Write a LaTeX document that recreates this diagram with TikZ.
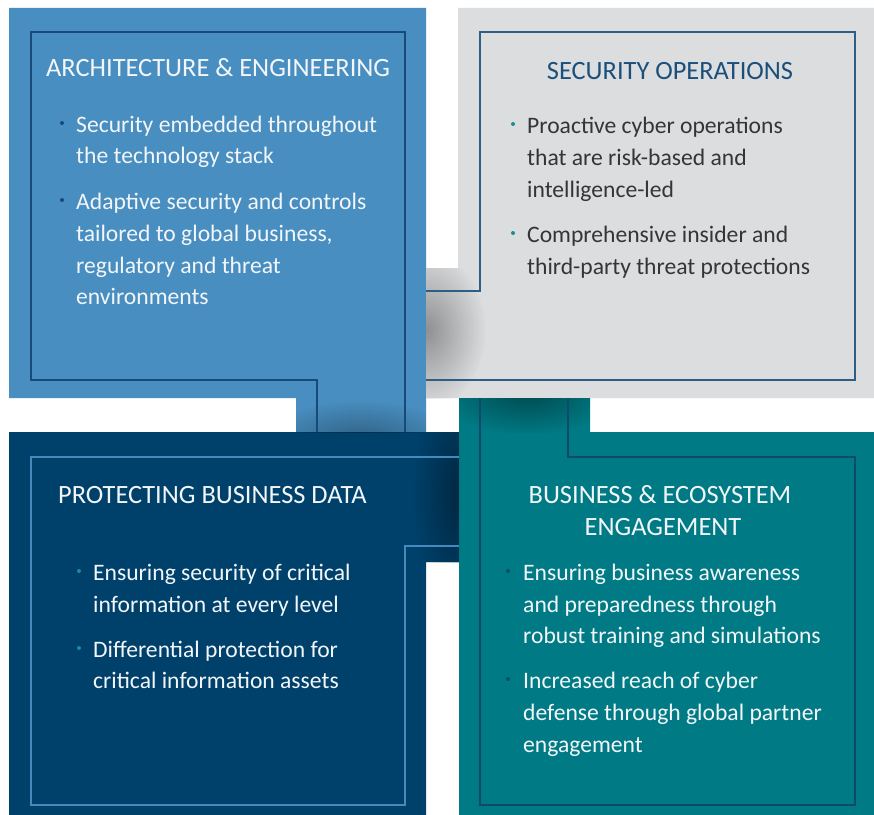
\documentclass[tikz,border=0pt]{standalone}
\usepackage{fontspec}
\setmainfont{Carlito}
\usetikzlibrary{fadings}
\definecolor{cblue}{HTML}{488EC0}
\definecolor{cbluel}{HTML}{174A78}
\definecolor{cgray}{HTML}{DCDDDF}
\definecolor{cgrayl}{HTML}{2C5E88}
\definecolor{cnavy}{HTML}{00416B}
\definecolor{cnavyl}{HTML}{4689BE}
\definecolor{cteal}{HTML}{007B85}
\definecolor{ctealt}{HTML}{0F4A6E}
\definecolor{ctitle}{HTML}{1B4F7B}
\definecolor{cbody}{HTML}{333538}
\definecolor{cdot}{HTML}{1E8C95}
\definecolor{cwhite}{HTML}{F2F6F9}
\tikzfading[name=shfade, inner color=transparent!0, outer color=transparent!100]
\tikzset{
  inline/.style={line width=1.2bp},
  ttl/.style={inner sep=0, font=\fontsize{26.5}{32}\selectfont},
  txt/.style={anchor=base west, inner sep=0, font=\fontsize{23.7}{32}\selectfont},
  shadowfill/.style={fill=black, path fading=shfade},
}
\begin{document}
\begin{tikzpicture}[x=1bp,y=-1bp]
\useasboundingbox (0,0) rectangle (874,815);
\fill[white] (0,0) rectangle (874,815);
% shapes
\path[fill=cblue] (9,8) -- (426,8) -- (426,432) -- (296,432) -- (296,398) -- (9,398) -- cycle;
\path[fill=cgray] (458,8) -- (874,8) -- (874,398) -- (426,398) -- (426,268) -- (458,268) -- cycle;
\path[fill=cnavy] (9,432) -- (459,432) -- (459,562) -- (426,562) -- (426,815) -- (9,815) -- cycle;
\path[fill=cteal] (459,398) -- (590,398) -- (590,432) -- (874,432) -- (874,815) -- (459,815) -- cycle;
% shadows
\begin{scope}
  \clip (426,268) rectangle (874,398);
  \fill[shadowfill, opacity=0.35] (426,330) ellipse [x radius=60, y radius=80];
\end{scope}
\begin{scope}
  \clip (296,398) rectangle (426,432);
  \fill[shadowfill, opacity=0.35] (360,444) ellipse [x radius=100, y radius=44];
\end{scope}
\begin{scope}
  \clip (459,398) rectangle (590,432);
  \fill[shadowfill, opacity=0.4] (527,392) ellipse [x radius=90, y radius=44];
\end{scope}
\begin{scope}
  \clip (9,432) rectangle (459,562);
  \fill[shadowfill, opacity=0.4] (462,495) ellipse [x radius=50, y radius=120];
\end{scope}
% inner lines
\draw[inline, cbluel] (317,432) -- (317,380) -- (31,380) -- (31,32) -- (405,32) -- (405,432);
\draw[inline, cgrayl] (426,291) -- (480,291) -- (480,32) -- (855,32) -- (855,380) -- (426,380);
\draw[inline, cnavyl] (459,457) -- (31,457) -- (31,805) -- (405,805) -- (405,546) -- (459,546);
\draw[inline, ctealt] (480,398) -- (480,805) -- (855,805) -- (855,457) -- (568,457) -- (568,398);
% A text
\node[ttl, anchor=base west, text=cwhite] (atitle) at (46,77) {ARCHITECTURE \& ENGINEERING};
\fill[cbluel] (62,123) circle (2);
\node[txt, text=cwhite] (a1) at (76,132) {Security embedded throughout};
\node[txt, text=cwhite] (a2) at (76,163) {the technology stack};
\fill[cbluel] (62,200) circle (2);
\node[txt, text=cwhite] (a3) at (76,209) {Adaptive security and controls};
\node[txt, text=cwhite] (a4) at (76,241) {tailored to global business,};
\node[txt, text=cwhite] (a5) at (76,273) {regulatory and threat};
\node[txt, text=cwhite] (a6) at (76,304) {environments};
% B text
\node[ttl, anchor=base, text=ctitle] (btitle) at (670,80) {SECURITY OPERATIONS};
\fill[cdot] (513,124) circle (2);
\node[txt, text=cbody] (b1) at (527,133) {Proactive cyber operations};
\node[txt, text=cbody] (b2) at (527,165) {that are risk-based and};
\node[txt, text=cbody] (b3) at (527,197) {intelligence-led};
\fill[cdot] (513,233) circle (2);
\node[txt, text=cbody] (b4) at (527,242) {Comprehensive insider and};
\node[txt, text=cbody] (b5) at (527,274) {third-party threat protections};
% C text
\node[ttl, anchor=base west, text=cwhite] (ctitle) at (58,503) {PROTECTING BUSINESS DATA};
\fill[cdot] (79,571) circle (2);
\node[txt, text=cwhite] (c1) at (93,580) {Ensuring security of critical};
\node[txt, text=cwhite] (c2) at (93,612) {information at every level};
\fill[cdot] (79,648) circle (2);
\node[txt, text=cwhite] (c3) at (93,657) {Differential protection for};
\node[txt, text=cwhite] (c4) at (93,688) {critical information assets};
% D text
\node[ttl, anchor=base, text=cwhite] (dtitle1) at (660,503) {BUSINESS \& ECOSYSTEM};
\node[ttl, anchor=base, text=cwhite] (dtitle2) at (663,535) {ENGAGEMENT};
\fill[ctealt] (508,571) circle (2);
\node[txt, text=cwhite] (d1) at (523,580) {Ensuring business awareness};
\node[txt, text=cwhite] (d2) at (523,612) {and preparedness through};
\node[txt, text=cwhite] (d3) at (523,643) {robust training and simulations};
\fill[ctealt] (508,679) circle (2);
\node[txt, text=cwhite] (d4) at (523,688) {Increased reach of cyber};
\node[txt, text=cwhite] (d5) at (523,720) {defense through global partner};
\node[txt, text=cwhite] (d6) at (523,752) {engagement};
\end{tikzpicture}
\end{document}
